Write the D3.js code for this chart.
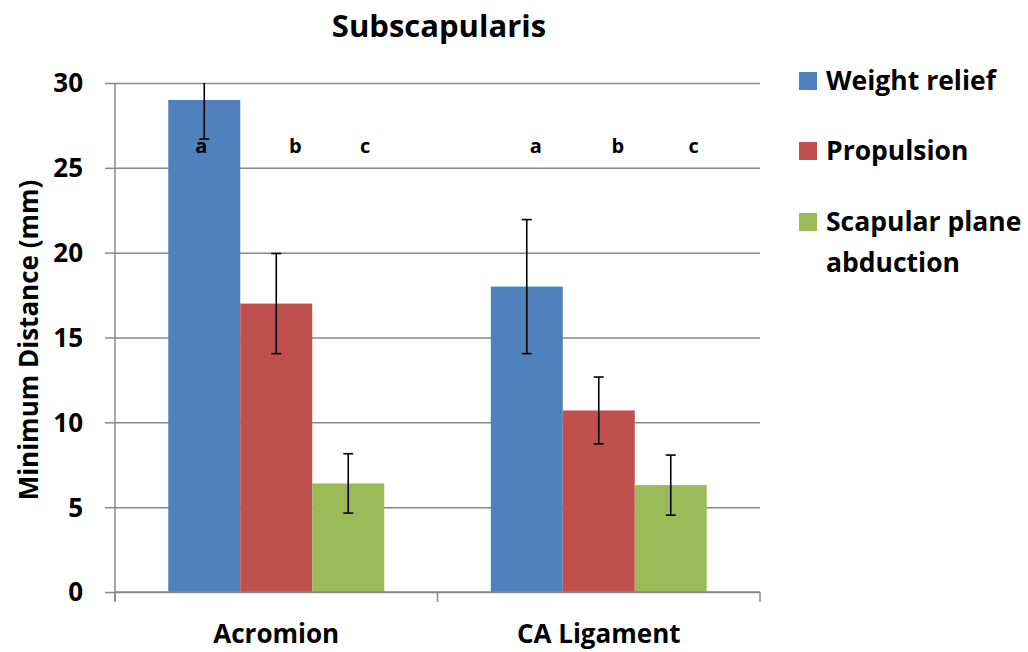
<!DOCTYPE html>
<html>
<head>
<meta charset="utf-8">
<script src="https://cdn.jsdelivr.net/npm/d3@7/dist/d3.min.js"></script>
<style>
  html, body { margin: 0; padding: 0; background: #fff; }
  svg text { font-family: "Open Sans", Lato, "DejaVu Sans", sans-serif; font-weight: bold; fill: #000; }
</style>
</head>
<body>
<svg id="chart" width="1028" height="652"></svg>
<script>
// Minimum distance of subscapularis to acromion / CA ligament, by task
const categories = ["Acromion", "CA Ligament"];
const seriesNames = ["Weight relief", "Propulsion", "Scapular plane abduction"];
const weightRelief = [29.0, 18.0];
const propulsion = [17.0, 10.7];
const scapularPlane = [6.4, 6.3];
const weightReliefErr = [2.3, 3.95];
const propulsionErr = [2.95, 1.97];
const scapularPlaneErr = [1.75, 1.77];
const yTicks = [0, 5, 10, 15, 20, 25, 30];
const groupLetters = ["a", "b", "c"];
const letterLevel = 26.3;

const colors = ["#4F81BD", "#C0504D", "#9BBB59"];
const values = [weightRelief, propulsion, scapularPlane];
const errors = [weightReliefErr, propulsionErr, scapularPlaneErr];

const svg = d3.select("#chart");
const plotLeft = 115, plotRight = 760, plotTop = 83, plotBottom = 592;

const x0 = d3.scaleBand().domain(categories).range([plotLeft, plotRight]).paddingInner(0).paddingOuter(0);
const x1 = d3.scaleBand().domain(seriesNames).range([0, x0.bandwidth()]).paddingInner(0).paddingOuter(0.74);
const y = d3.scaleLinear().domain([0, 30]).range([plotBottom, plotTop]);

// gridlines with outward tick marks
const gridColor = "#888888";
svg.append("g").attr("transform", `translate(${plotLeft},0)`)
  .call(d3.axisLeft(y).tickValues(yTicks).tickSize(10).tickFormat(""))
  .call(g => g.select(".domain").remove())
  .call(g => g.selectAll("line").attr("stroke", gridColor).attr("stroke-width", 1.5));
svg.append("g").attr("transform", `translate(${plotLeft},0)`)
  .call(d3.axisLeft(y).tickValues(yTicks).tickSize(-(plotRight - plotLeft)).tickFormat(""))
  .call(g => g.select(".domain").remove())
  .call(g => g.selectAll("line").attr("stroke", gridColor).attr("stroke-width", 1.5));

// tick labels
svg.append("g").selectAll("text").data(yTicks).join("text")
  .attr("x", 83).attr("y", d => y(d))
  .attr("dy", "0.36em").attr("text-anchor", "end")
  .attr("font-size", 26).text(d => d);

// y axis line
svg.append("line").attr("x1", plotLeft).attr("x2", plotLeft).attr("y1", plotTop).attr("y2", plotBottom + 9)
  .attr("stroke", gridColor).attr("stroke-width", 1.5);

// bars
const rows = [];
categories.forEach((c, ci) => seriesNames.forEach((s, si) => {
  rows.push({ c, s, si, v: values[si][ci], e: errors[si][ci] });
}));

svg.append("g").selectAll("rect").data(rows).join("rect")
  .attr("x", d => x0(d.c) + x1(d.s))
  .attr("width", x1.bandwidth())
  .attr("y", d => y(d.v))
  .attr("height", d => y(0) - y(d.v))
  .attr("fill", d => colors[d.si]);

// x axis with category dividers
svg.append("line").attr("x1", plotLeft).attr("x2", plotRight).attr("y1", plotBottom).attr("y2", plotBottom)
  .attr("stroke", gridColor).attr("stroke-width", 1.5);
const dividers = [plotLeft].concat(categories.map(c => x0(c) + x0.bandwidth()));
svg.append("g").selectAll("line").data(dividers).join("line")
  .attr("x1", d => d).attr("x2", d => d).attr("y1", plotBottom).attr("y2", plotBottom + 10)
  .attr("stroke", gridColor).attr("stroke-width", 1.5);

// error bars (clipped to the plot top)
const clipY = v => y(Math.min(v, 30));
const eb = svg.append("g").attr("stroke", "#000").attr("stroke-width", 1.6);
rows.forEach(d => {
  const cx = x0(d.c) + x1(d.s) + x1.bandwidth() / 2;
  eb.append("line").attr("x1", cx).attr("x2", cx).attr("y1", clipY(d.v + d.e)).attr("y2", y(d.v - d.e));
  eb.append("line").attr("x1", cx - 5).attr("x2", cx + 5).attr("y1", y(d.v - d.e)).attr("y2", y(d.v - d.e));
  if (d.v + d.e <= 30) {
    eb.append("line").attr("x1", cx - 5).attr("x2", cx + 5).attr("y1", y(d.v + d.e)).attr("y2", y(d.v + d.e));
  }
});

// significance letters
const letterShift = [[-3, 19, 17], [9, 19, 23]];
categories.forEach((c, ci) => seriesNames.forEach((s, si) => {
  svg.append("text")
    .attr("x", x0(c) + x1(s) + x1.bandwidth() / 2 + letterShift[ci][si])
    .attr("y", y(letterLevel)).attr("dy", "0.36em")
    .attr("text-anchor", "middle").attr("font-size", 20)
    .text(groupLetters[si]);
}));

// category labels
svg.append("g").selectAll("text").data(categories).join("text")
  .attr("x", d => x0(d) + x0.bandwidth() / 2).attr("y", 643)
  .attr("text-anchor", "middle").attr("font-size", 26).text(d => d);

// title
svg.append("text").attr("x", 439).attr("y", 37).attr("text-anchor", "middle")
  .attr("font-size", 31).text("Subscapularis");

// y axis title
svg.append("text").attr("transform", "translate(38,340) rotate(-90)")
  .attr("text-anchor", "middle").attr("font-size", 26).text("Minimum Distance (mm)");

// legend
const legendRows = [
  { lines: ["Weight relief"], y: 90 },
  { lines: ["Propulsion"], y: 160 },
  { lines: ["Scapular plane", "abduction"], y: 231 }
];
const lg = svg.append("g");
legendRows.forEach((r, i) => {
  lg.append("rect").attr("x", 799).attr("y", r.y - 18).attr("width", 18).attr("height", 18).attr("fill", colors[i]);
  r.lines.forEach((t, li) => {
    lg.append("text").attr("x", 826).attr("y", r.y + li * 41).attr("font-size", 26.5).text(t);
  });
});
</script>
</body>
</html>
